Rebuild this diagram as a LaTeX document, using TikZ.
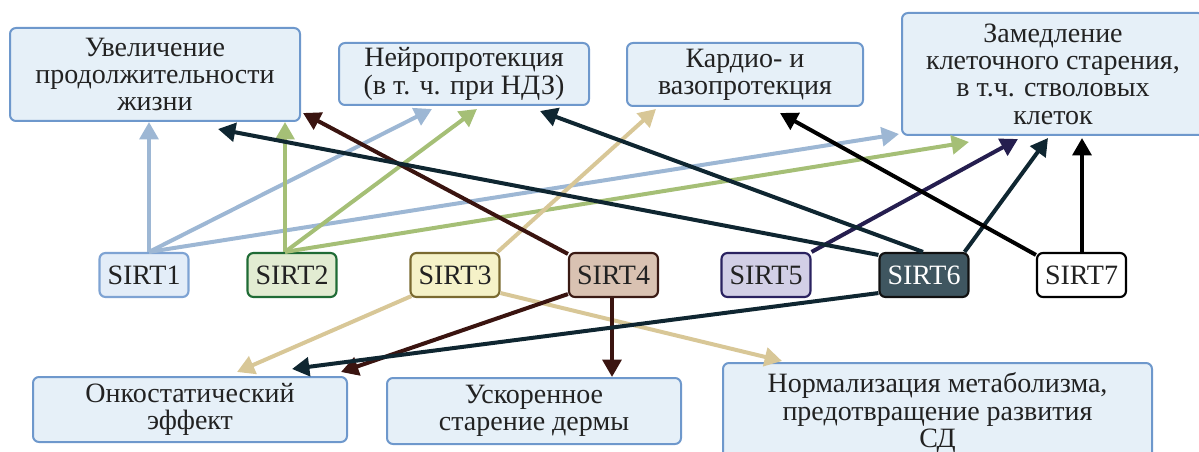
\documentclass[tikz,border=0pt]{standalone}
\usepackage{fontspec}
\setmainfont{Liberation Serif}
\usetikzlibrary{calc,arrows.meta}
\definecolor{boxfill}{HTML}{E6F0F8}
\definecolor{boxline}{HTML}{6E98CC}
\definecolor{txt}{HTML}{222222}
\definecolor{sA}{HTML}{E3EDF8}\definecolor{sAl}{HTML}{7EA3D3}\definecolor{aA}{HTML}{9DB7D4}
\definecolor{sB}{HTML}{E2ECD2}\definecolor{sBl}{HTML}{1F6B35}\definecolor{aB}{HTML}{A5BF76}
\definecolor{sC}{HTML}{F5F2C8}\definecolor{sCl}{HTML}{7A6A30}\definecolor{aC}{HTML}{D8C797}
\definecolor{sD}{HTML}{D9C2B2}\definecolor{sDl}{HTML}{3A1A14}\definecolor{aD}{HTML}{3A1410}
\definecolor{sE}{HTML}{D2CFE6}\definecolor{sEl}{HTML}{2A2260}\definecolor{aE}{HTML}{251E4F}
\definecolor{sF}{HTML}{3F5660}\definecolor{sFl}{HTML}{111111}\definecolor{aF}{HTML}{0F2631}
\definecolor{aG}{HTML}{000000}
\begin{document}
\begin{tikzpicture}[x=0.75pt,y=-0.75pt,
  font=\fontsize{21}{20.5}\selectfont,
  effbox/.style={draw=boxline,fill=boxfill,line width=1.5pt,rounded corners=4.5pt,
    align=center,inner sep=0pt,text=txt},
  sirt/.style={line width=1.6pt,rounded corners=4.5pt,minimum width=66.75pt,
    minimum height=33pt,inner sep=0pt,text=txt},
  conn/.style={line width=3pt,-{Triangle[length=13pt,width=14pt]}},
  plain/.style={line width=3pt}]
\useasboundingbox (0,0) rectangle (1199,452);
\clip (0,0) rectangle (1199,452);
% effect boxes
\node[effbox,minimum width=217.5pt,minimum height=69.75pt] (A) at (155,74.5) {Увеличение\\продолжительности\\жизни};
\node[effbox,minimum width=187.5pt,minimum height=46.5pt] (B) at (464,74) {Нейропротекция\\(в т. ч. при НДЗ)};
\node[effbox,minimum width=177pt,minimum height=47.25pt] (C) at (745,74.5) {Кардио- и\\вазопротекция};
\node[effbox,minimum width=226.5pt,minimum height=91.5pt] (D) at (1053,74) {Замедление\\клеточного старения,\\в т.ч. стволовых\\клеток};
\node[effbox,minimum width=235.5pt,minimum height=48.75pt] (E) at (190,409.5) {Онкостатический\\эффект};
\node[effbox,minimum width=220.5pt,minimum height=49.5pt] (F) at (534,411) {Ускоренное\\старение дермы};
\node[effbox,minimum width=321.75pt,minimum height=75pt] (G) at (937.5,413) {Нормализация метаболизма,\\предотвращение развития\\СД};
% sirtuins
\node[sirt,draw=sAl,fill=sA] (s1) at (144,275) {SIRT1};
\node[sirt,draw=sBl,fill=sB] (s2) at (292,275) {SIRT2};
\node[sirt,draw=sCl,fill=sC] (s3) at (455,275) {SIRT3};
\node[sirt,draw=sDl,fill=sD] (s4) at (613.5,275) {SIRT4};
\node[sirt,draw=sEl,fill=sE] (s5) at (766,275) {SIRT5};
\node[sirt,draw=sFl,fill=sF,text=white] (s6) at (924,275) {SIRT6};
\node[sirt,draw=black,fill=white] (s7) at (1081.5,275) {SIRT7};
% SIRT1
\draw[conn,aA] ($(s1.north)+(5,0)$) -- ($(A.south)+(-6,0)$);
\draw[conn,aA] ($(s1.north)+(5,0)$) -- ($(B.south)+(-32,3)$);
\draw[conn,aA] ($(s1.north)+(5,0)$) -- ($(D.south west)+(-2,-2)$);
% SIRT2
\draw[conn,aB] ($(s2.north)+(-7,0)$) -- ($(A.south)+(130,0)$);
\draw[conn,aB] ($(s2.north)+(-7,0)$) -- ($(B.south)+(13,3)$);
\draw[conn,aB] ($(s2.north)+(-7,0)$) -- ($(D.south west)+(68,6)$);
% SIRT3
\draw[conn,aC] ($(s3.north east)+(-3,0)$) -- ($(C.south west)+(30,2)$);
\draw[conn,aC] ($(s3.south west)+(2,-2)$) -- ($(E.north)+(47,-4)$);
\draw[conn,aC] ($(s3.south east)+(0,-5)$) -- ($(G.north west)+(60,-1)$);
% SIRT4
\draw[conn,aD] ($(s4.north west)+(0,2)$) -- ($(A.south east)+(2,-9)$);
\draw[conn,aD] ($(s4.south west)+(0,-4)$) -- ($(E.north east)+(-7,-4)$);
\draw[conn,aD] ($(s4.south)+(-1.5,0)$) -- ($(F.north)+(78,0)$);
% SIRT5
\draw[conn,aE] (s5.north east) -- ($(D.south)+(-35,3)$);
% SIRT6
\draw[conn,aF] ($(s6.north west)+(0,3)$) -- ($(A.south)+(63,7)$);
\draw[conn,aF] ($(s6.north)+(-1,0)$) -- ($(B.south)+(76,5)$);
\draw[conn,aF] ($(s6.north east)+(-5,0)$) -- ($(D.south)+(-5,2)$);
\draw[conn,aF] ($(s6.south west)+(0,-5)$) -- ($(E.north)+(102,-7)$);
% SIRT7
\draw[conn,aG] ($(s7.north west)+(0,3)$) -- ($(C.south)+(35,6)$);
\draw[conn,aG] ($(s7.north)+(0.5,0)$) -- ($(D.south)+(29,2)$);
\end{tikzpicture}
\end{document}
